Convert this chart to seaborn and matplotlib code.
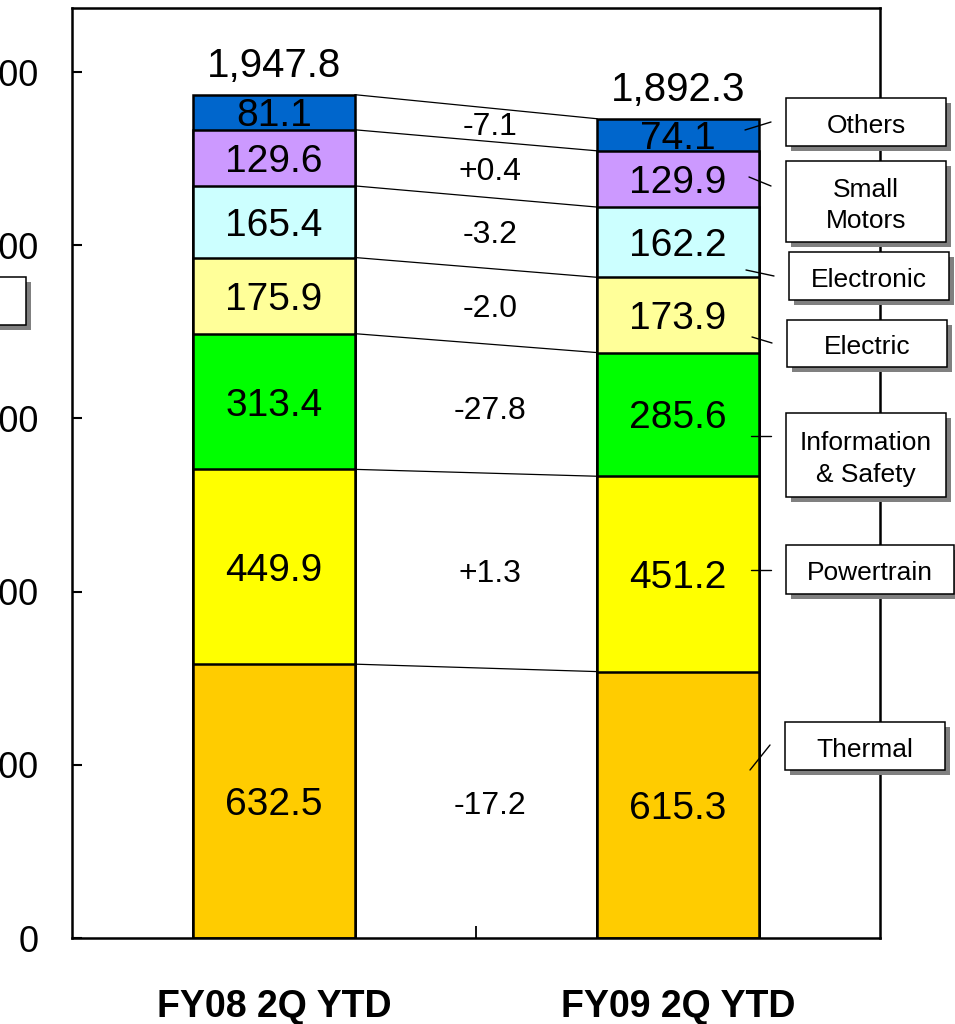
import numpy as np
import pandas as pd
import matplotlib
matplotlib.use("Agg")
import matplotlib.pyplot as plt
from matplotlib.patches import Rectangle
from matplotlib.lines import Line2D
import seaborn as sns

# ---- data -------------------------------------------------------------
periods = ["FY08 2Q YTD", "FY09 2Q YTD"]
segments = ["Thermal", "Powertrain", "Information\n& Safety", "Electric",
            "Electronic", "Small\nMotors", "Others"]
fy08 = [632.5, 449.9, 313.4, 175.9, 165.4, 129.6, 81.1]
fy09 = [615.3, 451.2, 285.6, 173.9, 162.2, 129.9, 74.1]
totals = [1947.8, 1892.3]
changes = [-17.2, 1.3, -27.8, -2.0, -3.2, 0.4, -7.1]
colors = ["#FFCC00", "#FFFF00", "#00FF00", "#FFFF99", "#CCFFFF", "#CC99FF", "#0066CC"]
yticks = [0, 400, 800, 1200, 1600, 2000]

# ---- style ------------------------------------------------------------
sns.set_theme(style="ticks")
plt.rcParams["font.family"] = ["Liberation Sans", "DejaVu Sans"]

W, H = 955, 1024
fig = plt.figure(figsize=(W / 100, H / 100), dpi=100, facecolor="white")
ax = fig.add_axes([72 / W, 1 - 938 / H, (880 - 72) / W, (938 - 8) / H])
ax.set_facecolor("white")

df = pd.DataFrame({
    "period": np.repeat(periods, len(segments)),
    "segment": segments * 2,
    "value": fy08 + fy09,
})
df["top"] = df.groupby("period")["value"].cumsum()
df["bottom"] = df["top"] - df["value"]

# stacked bars: draw cumulative heights from the top layer down
for seg, col in reversed(list(zip(segments, colors))):
    sub = df[df["segment"] == seg]
    sns.barplot(data=sub, x="period", y="top", order=periods, color=col,
                saturation=1, width=0.4, edgecolor="black", linewidth=1.8,
                errorbar=None, ax=ax, zorder=2)

# segment value labels and totals
for i, p in enumerate(periods):
    sub = df[df["period"] == p]
    for _, row in sub.iterrows():
        ax.text(i, row["bottom"] + row["value"] / 2, f"{row['value']:.1f}",
                ha="center", va="center_baseline", fontsize=28, color="black",
                zorder=10)
    ax.text(i, sub["top"].max() + 76, f"{totals[i]:,.1f}", ha="center",
            va="center_baseline", fontsize=29, color="black", zorder=10)

# connector lines between matching segment tops + change labels
a = df[df["period"] == periods[0]].reset_index(drop=True)
b = df[df["period"] == periods[1]].reset_index(drop=True)
for k in range(len(segments)):
    ax.plot([0.2, 0.8], [a.loc[k, "top"], b.loc[k, "top"]], color="black",
            lw=0.9, zorder=3)
    mid = ((a.loc[k, "bottom"] + a.loc[k, "top"]) / 2
           + (b.loc[k, "bottom"] + b.loc[k, "top"]) / 2) / 2
    ax.text(0.535, mid, f"{changes[k]:+.1f}", ha="center",
            va="center_baseline", fontsize=23, color="black", zorder=10)

# axes
ax.set_xlim(-0.5, 1.5)
ax.set_ylim(0, 2148)
ax.set_xlabel("")
ax.set_ylabel("")
ax.set_yticks(yticks)
ax.set_yticklabels([str(v) for v in yticks])
ax.tick_params(axis="y", direction="in", length=7, width=1.5, pad=24,
               labelsize=26, colors="black", right=False)
ax.set_xticks([0, 1])
ax.set_xticklabels(periods, fontsize=27, fontweight="bold")
ax.set_xticks([0.5], minor=True)
ax.tick_params(axis="x", which="major", length=0, pad=37, colors="black")
ax.tick_params(axis="x", which="minor", direction="in", length=9, width=1.3,
               color="black", top=False)
for sp in ax.spines.values():
    sp.set_visible(True)
    sp.set_color("black")
    sp.set_linewidth(1.8)
ax.grid(False)


def fpx(x, y):
    return x / W, 1 - y / H


def label_box(l, t, r, bt, text=None):
    fig.add_artist(Rectangle(fpx(l + 5, bt + 5), (r - l) / W, (bt - t) / H,
                             transform=fig.transFigure, facecolor="#808080",
                             edgecolor="none", zorder=3))
    fig.add_artist(Rectangle(fpx(l, bt), (r - l) / W, (bt - t) / H,
                             transform=fig.transFigure, facecolor="white",
                             edgecolor="black", linewidth=1.1, zorder=4))
    if text:
        fig.text((l + r) / 2 / W, 1 - ((t + bt) / 2 + 4) / H, text,
                 ha="center", va="center", fontsize=19, linespacing=1.4,
                 color="black", zorder=5)


# segment name boxes (left, top, right, bottom in pixels) with leader lines
boxes = {
    "Others": ((786, 98, 946, 146), (745, 130, 771, 122)),
    "Small\nMotors": ((786, 161, 946, 242), (749, 177, 771, 186)),
    "Electronic": ((789, 252, 949, 300), (746, 270, 774, 276)),
    "Electric": ((787, 320, 947, 367), (752, 337, 772, 343)),
    "Information\n& Safety": ((786, 413, 946, 497), (751, 436, 771, 436)),
    "Powertrain": ((786, 545, 954, 594), (751, 570, 771, 570)),
    "Thermal": ((785, 722, 945, 770), (750, 770, 770, 745)),
}
for name in segments:
    (l, t, r, bt), (x0, y0, x1, y1) = boxes[name]
    label_box(l, t, r, bt, name)
    fig.add_artist(Line2D([x0 / W, x1 / W], [1 - y0 / H, 1 - y1 / H],
                          transform=fig.transFigure, color="black", lw=1.0,
                          zorder=6))

# unit box at the left edge
label_box(-80, 277, 26, 325)

fig.savefig("out.png", dpi=100, facecolor="white")
